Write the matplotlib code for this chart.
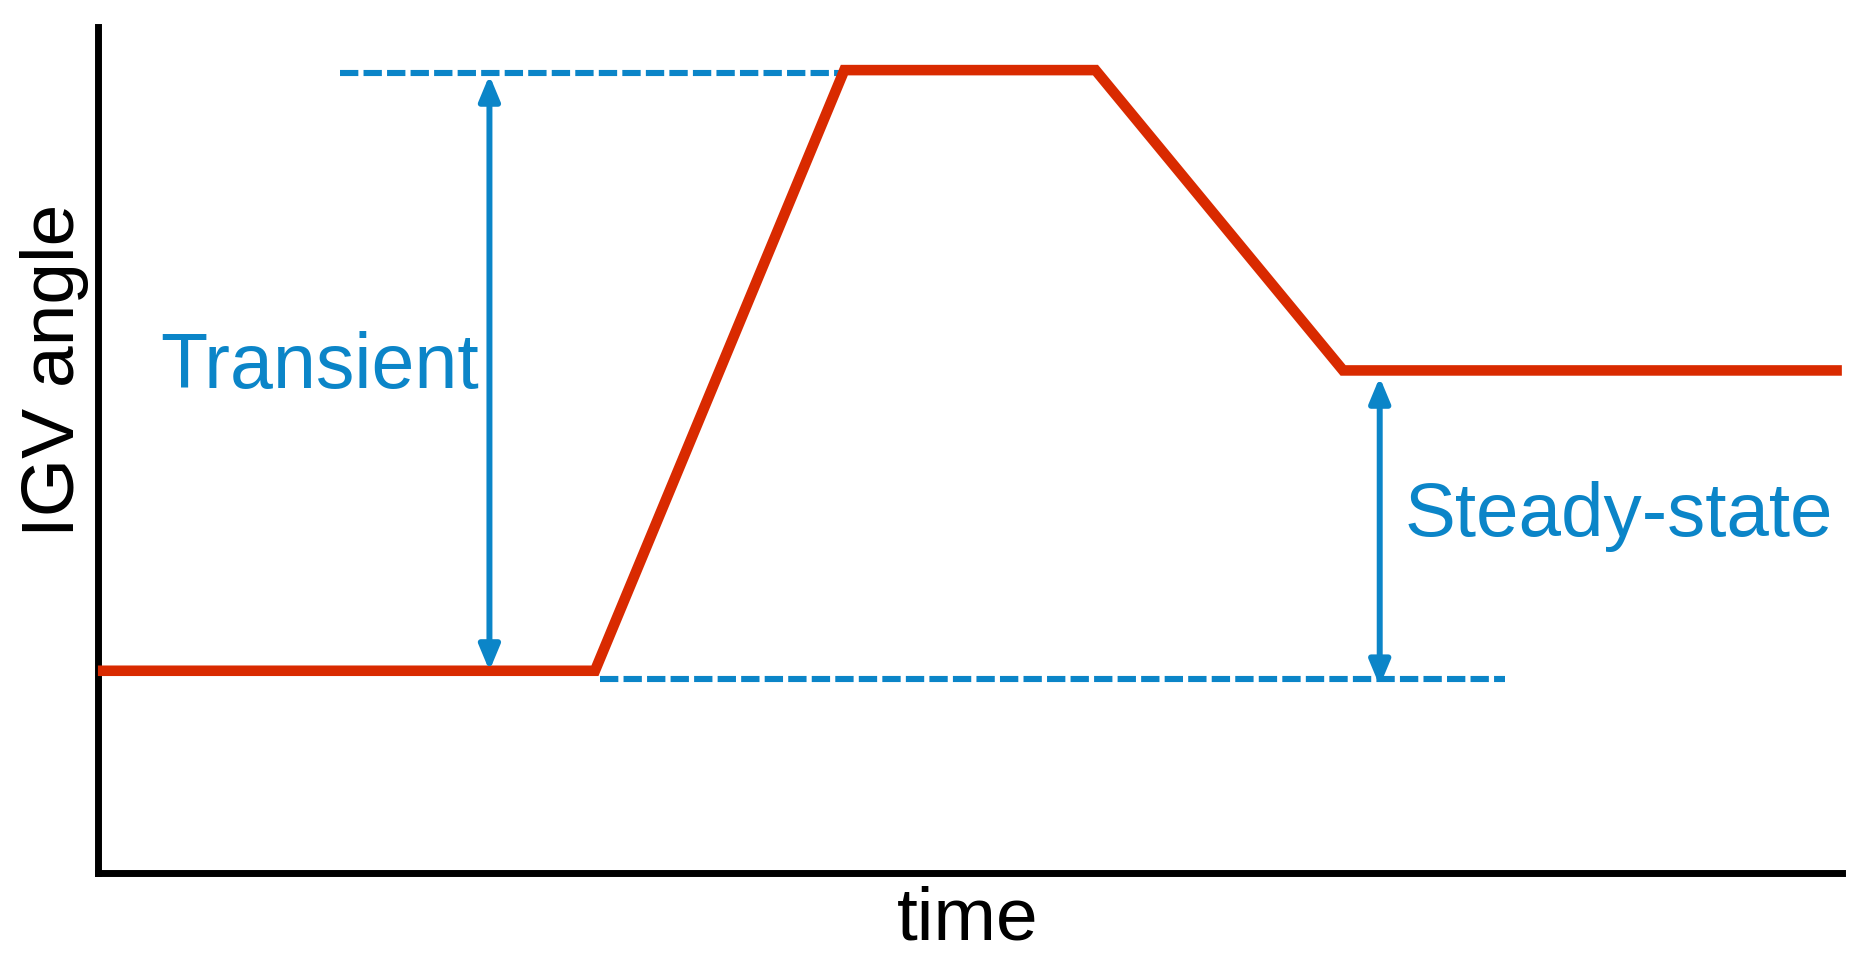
import matplotlib.pyplot as plt

# IGV angle trace (time in arbitrary units, angle in arbitrary units)
time_pts = [0.0, 2.85, 4.28, 5.72, 7.14, 10.0]
igv_angle = [2.39, 2.39, 9.49, 9.49, 5.94, 5.94]

# reference levels (dashed) and the two spans
peak_ref = {"t0": 1.39, "t1": 4.29, "level": 9.46}
base_ref = {"t0": 2.88, "t1": 8.07, "level": 2.29}
transient_span = {"t": 2.245, "lo": 2.39, "hi": 9.43}
steady_span = {"t": 7.35, "lo": 2.21, "hi": 5.86}

RED = "#d92a00"
BLUE = "#0b85c8"
FONT = "Liberation Sans"

fig = plt.figure(figsize=(18.76, 9.63), dpi=100)
ax = fig.add_axes([0.0522, 0.0935, 0.9296, 0.8785])
ax.set_xlim(0, 10)
ax.set_ylim(0, 10)

ax.plot(time_pts, igv_angle, color=RED, lw=7.6, solid_capstyle="butt",
        solid_joinstyle="miter", clip_on=False, zorder=3)

for ref in (peak_ref, base_ref):
    ax.plot([ref["t0"], ref["t1"]], [ref["level"], ref["level"]], color=BLUE,
            lw=4.4, dashes=(3, 0.85), dash_capstyle="butt", clip_on=False, zorder=2)

arrow_style = "<|-|>,head_length=0.6,head_width=0.25"
for span in (transient_span, steady_span):
    ax.annotate("", xy=(span["t"], span["hi"]), xytext=(span["t"], span["lo"]),
                arrowprops=dict(arrowstyle=arrow_style, color=BLUE, lw=4.3,
                                mutation_scale=25, shrinkA=0, shrinkB=0),
                zorder=4)

ax.text(0.355, 5.73, "Transient", color=BLUE, fontsize=55.5, family=FONT,
        ha="left", va="baseline")
ax.text(7.49, 3.98, "Steady-state", color=BLUE, fontsize=55, family=FONT,
        ha="left", va="baseline")

fig.text(0.0288, 0.615, "IGV angle", rotation=90, fontsize=54, family=FONT,
         ha="center", va="center")
fig.text(0.516, 0.0239, "time", fontsize=54, family=FONT,
         ha="center", va="baseline")

for side in ("top", "right"):
    ax.spines[side].set_visible(False)
for side in ("left", "bottom"):
    ax.spines[side].set_linewidth(5)
    ax.spines[side].set_color("black")
ax.set_xticks([])
ax.set_yticks([])

fig.savefig("out.png", dpi=100)
